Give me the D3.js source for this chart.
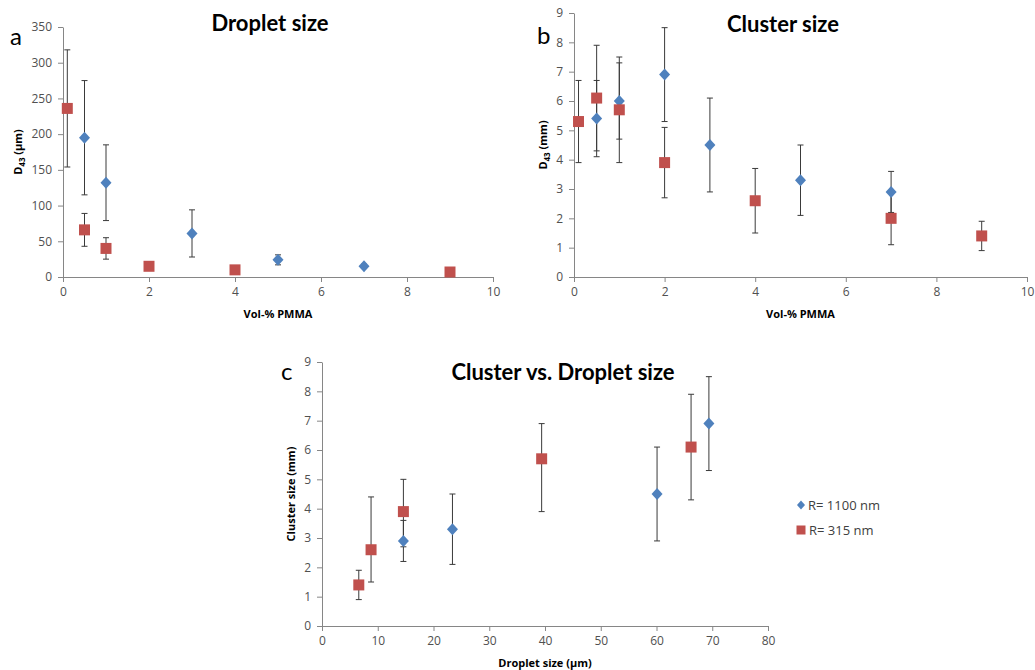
<!DOCTYPE html>
<html>
<head>
<meta charset="utf-8">
<script src="https://cdn.jsdelivr.net/npm/d3@7"></script>
<style>
  body { margin: 0; background: #fff; }
  svg { font-family: "Open Sans", Lato, sans-serif; }
  .tick text { fill: #505050; font-size: 12px; font-family: "Open Sans", sans-serif; }
  .domain, .tick line { stroke: #868686; }
  .title { font-family: Lato, "Open Sans", sans-serif; }
</style>
</head>
<body>
<svg id="chart" width="1035" height="670"></svg>
<script>
// Panel a: droplet size vs Vol-% PMMA
const dropBlueX = [0.5, 1, 3, 5, 7];
const dropBlueY = [195, 132, 61, 24, 15];
const dropBlueErr = [80, 53, 33, 7, 3];
const dropRedX = [0.1, 0.5, 1, 2, 4, 9];
const dropRedY = [236, 66, 40, 15, 10, 7];
const dropRedErr = [82, 23, 15, 2, 2, 2];

// Panel b: cluster size vs Vol-% PMMA
const clusBlueX = [0.5, 1, 2, 3, 5, 7];
const clusBlueY = [5.4, 6.0, 6.9, 4.5, 3.3, 2.9];
const clusBlueErr = [1.3, 1.3, 1.6, 1.6, 1.2, 0.7];
const clusRedX = [0.1, 0.5, 1, 2, 4, 7, 9];
const clusRedY = [5.3, 6.1, 5.7, 3.9, 2.6, 2.0, 1.4];
const clusRedErr = [1.4, 1.8, 1.8, 1.2, 1.1, 0.9, 0.5];

// Panel c: cluster vs droplet size (asymmetric bars)
const cvdBlueX = [14.6, 23.4, 60.1, 69.4];
const cvdBlueY = [2.9, 3.3, 4.5, 6.9];
const cvdBlueLo = [2.2, 2.1, 2.9, 5.3];
const cvdBlueHi = [3.6, 4.5, 6.1, 8.5];
const cvdRedX = [6.6, 8.8, 14.6, 39.4, 66.2];
const cvdRedY = [1.4, 2.6, 3.9, 5.7, 6.1];
const cvdRedLo = [0.9, 1.5, 2.7, 3.9, 4.3];
const cvdRedHi = [1.9, 4.4, 5.0, 6.9, 7.9];

const seriesNames = ['R= 1100 nm', 'R= 315 nm'];
const blue = '#4f81bd', red = '#c0504d';

const svg = d3.select('#chart');

function sym(xs, ys, err) {
  return xs.map((x, i) => ({ x, y: ys[i], lo: ys[i] - err[i], hi: ys[i] + err[i] }));
}
function asym(xs, ys, lo, hi) {
  return xs.map((x, i) => ({ x, y: ys[i], lo: lo[i], hi: hi[i] }));
}

function panel(opt) {
  const g = svg.append('g');
  const x = d3.scaleLinear().domain(opt.xDomain).range([opt.left, opt.right]);
  const y = d3.scaleLinear().domain(opt.yDomain).range([opt.bottom, opt.top]);

  g.append('g')
    .attr('transform', `translate(0,${opt.bottom})`)
    .call(d3.axisBottom(x).tickValues(opt.xTicks).tickSize(5).tickSizeOuter(0).tickPadding(5));
  g.append('g')
    .attr('transform', `translate(${opt.left},0)`)
    .call(d3.axisLeft(y).tickValues(opt.yTicks).tickSize(5).tickSizeOuter(0).tickPadding(6));

  // panel letter and title
  g.append('text').attr('class', 'title').attr('x', opt.letterX).attr('y', opt.letterY)
    .attr('font-size', 24).attr('fill', '#000').text(opt.letter);
  g.append('text').attr('class', 'title').attr('x', opt.titleX).attr('y', opt.titleY)
    .attr('text-anchor', 'middle').attr('font-size', 22).attr('font-weight', 'bold')
    .attr('fill', '#000').text(opt.title);

  // axis titles
  g.append('text').attr('x', (opt.left + opt.right) / 2).attr('y', opt.bottom + 41)
    .attr('text-anchor', 'middle').attr('font-size', 11).attr('font-weight', 'bold')
    .text(opt.xLabel);
  const yl = g.append('text')
    .attr('transform', `translate(${opt.yLabelX},${(opt.top + opt.bottom) / 2}) rotate(-90)`)
    .attr('text-anchor', 'middle').attr('font-size', 11).attr('font-weight', 'bold');
  if (opt.ySub) {
    yl.append('tspan').text('D');
    yl.append('tspan').attr('font-size', 8).attr('dy', 3).text('43');
    yl.append('tspan').attr('dy', -3).text(' ' + opt.yLabel);
  } else {
    yl.text(opt.yLabel);
  }

  // error bars first, markers on top
  opt.series.forEach((s) => {
    const eb = g.append('g').selectAll('g').data(s.data).join('g')
      .attr('stroke', '#3a3a3a').attr('stroke-width', 1);
    eb.append('line')
      .attr('x1', (d) => x(d.x)).attr('x2', (d) => x(d.x))
      .attr('y1', (d) => y(d.lo)).attr('y2', (d) => y(d.hi));
    eb.append('line')
      .attr('x1', (d) => x(d.x) - 3).attr('x2', (d) => x(d.x) + 3)
      .attr('y1', (d) => y(d.hi)).attr('y2', (d) => y(d.hi));
    eb.append('line')
      .attr('x1', (d) => x(d.x) - 3).attr('x2', (d) => x(d.x) + 3)
      .attr('y1', (d) => y(d.lo)).attr('y2', (d) => y(d.lo));
  });
  opt.series.forEach((s) => {
    const m = g.append('g').selectAll('path').data(s.data).join('path')
      .attr('transform', (d) => `translate(${x(d.x)},${y(d.y)})`)
      .attr('fill', s.color);
    if (s.shape === 'diamond') m.attr('d', 'M0,-6L5.5,0L0,6L-5.5,0Z');
    else m.attr('d', 'M-5.5,-5.5H5.5V5.5H-5.5Z');
  });
}

panel({
  left: 63, right: 493, top: 27, bottom: 277,
  xDomain: [0, 10], yDomain: [0, 350],
  xTicks: d3.range(0, 11, 2), yTicks: d3.range(0, 351, 50),
  letter: 'a', letterX: 10, letterY: 45,
  title: 'Droplet size', titleX: 270, titleY: 31,
  xLabel: 'Vol-% PMMA', yLabel: '(µm)', ySub: true, yLabelX: 22,
  series: [
    { shape: 'diamond', color: blue, data: sym(dropBlueX, dropBlueY, dropBlueErr) },
    { shape: 'square', color: red, data: sym(dropRedX, dropRedY, dropRedErr) }
  ]
});

panel({
  left: 574, right: 1027, top: 13, bottom: 277,
  xDomain: [0, 10], yDomain: [0, 9],
  xTicks: d3.range(0, 11, 2), yTicks: d3.range(0, 10, 1),
  letter: 'b', letterX: 537, letterY: 44,
  title: 'Cluster size', titleX: 783, titleY: 32,
  xLabel: 'Vol-% PMMA', yLabel: '(mm)', ySub: true, yLabelX: 547,
  series: [
    { shape: 'diamond', color: blue, data: sym(clusBlueX, clusBlueY, clusBlueErr) },
    { shape: 'square', color: red, data: sym(clusRedX, clusRedY, clusRedErr) }
  ]
});

panel({
  left: 322, right: 768, top: 362, bottom: 626,
  xDomain: [0, 80], yDomain: [0, 9],
  xTicks: d3.range(0, 81, 10), yTicks: d3.range(0, 10, 1),
  letter: 'c', letterX: 281, letterY: 380,
  title: 'Cluster vs. Droplet size', titleX: 563, titleY: 380,
  xLabel: 'Droplet size (µm)', yLabel: 'Cluster size (mm)', ySub: false, yLabelX: 295,
  series: [
    { shape: 'diamond', color: blue, data: asym(cvdBlueX, cvdBlueY, cvdBlueLo, cvdBlueHi) },
    { shape: 'square', color: red, data: asym(cvdRedX, cvdRedY, cvdRedLo, cvdRedHi) }
  ]
});

// legend
const legend = svg.append('g').attr('transform', 'translate(801,505)');
seriesNames.forEach((name, i) => {
  const row = legend.append('g').attr('transform', `translate(0,${i * 25})`);
  if (i === 0) row.append('path').attr('d', 'M0,-4.5L4,0L0,4.5L-4,0Z').attr('fill', blue);
  else row.append('rect').attr('x', -4.5).attr('y', -4.5).attr('width', 9).attr('height', 9).attr('fill', red);
  row.append('text').attr('x', i === 0 ? 7 : 8).attr('y', 4.5)
    .attr('font-size', 13).attr('fill', '#404040').text(name);
});
</script>
</body>
</html>
